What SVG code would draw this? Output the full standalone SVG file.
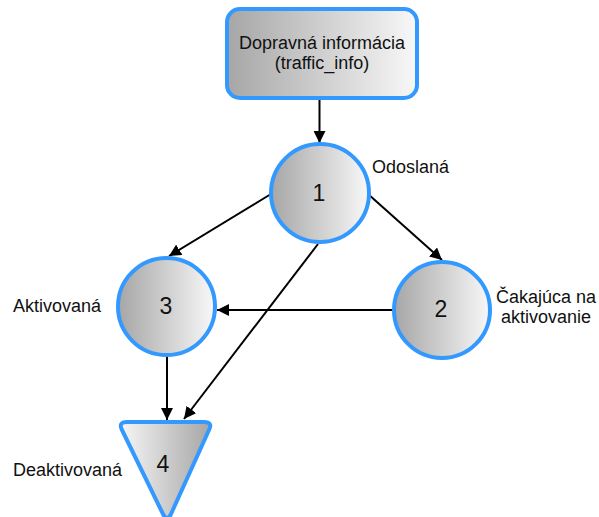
<svg xmlns="http://www.w3.org/2000/svg" width="599" height="517" viewBox="0 0 599 517">
<defs>
<linearGradient id="gL" x1="0" y1="0" x2="1" y2="0"><stop offset="0" stop-color="#a6a6a6"/><stop offset="1" stop-color="#f8f8f8"/></linearGradient>
<linearGradient id="gR" x1="0" y1="0" x2="1" y2="0"><stop offset="0" stop-color="#f6f6f6"/><stop offset="1" stop-color="#a6a6a6"/></linearGradient>
<marker id="ah" viewBox="0 0 12 12" refX="12" refY="6" markerWidth="12" markerHeight="12" markerUnits="userSpaceOnUse" orient="auto"><path d="M0,0 L12,6 L0,12 z" fill="#000"/></marker>
<style>
.node{stroke:#3399ff;stroke-width:4}
.lbl{font-family:"Liberation Sans",Arial,sans-serif;font-size:18px;fill:#111}
.num{font-family:"Liberation Sans",Arial,sans-serif;font-size:23px;fill:#111;text-anchor:middle}
.con line{stroke:#000;stroke-width:2;marker-end:url(#ah)}
</style>
</defs>
<rect width="599" height="517" fill="#fff"/>
<g id="connectors" class="con">
<line x1="319.5" y1="99" x2="319.5" y2="143"/>
<line x1="271" y1="194" x2="169" y2="256"/>
<line x1="368" y1="194" x2="442" y2="260"/>
<line x1="318" y1="244" x2="184" y2="419"/>
<line x1="393" y1="310" x2="217" y2="310"/>
<line x1="167" y1="356" x2="167" y2="420"/>
</g>
<g id="info">
<rect class="node" x="227" y="9" width="190" height="89" rx="13" fill="url(#gL)"/>
<text class="lbl" x="322" y="49" text-anchor="middle">Dopravná informácia</text>
<text class="lbl" x="322" y="69" text-anchor="middle">(traffic_info)</text>
</g>
<g id="n1">
<circle class="node" cx="320" cy="193" r="49" fill="url(#gL)"/>
<text class="num" x="319" y="201">1</text>
<text class="lbl" x="372" y="173">Odoslaná</text>
</g>
<g id="n2">
<circle class="node" cx="442" cy="310" r="48" fill="url(#gL)"/>
<text class="num" x="441" y="317">2</text>
<text class="lbl" x="546" y="303" text-anchor="middle">Čakajúca na</text>
<text class="lbl" x="546" y="323" text-anchor="middle">aktivovanie</text>
</g>
<g id="n3">
<circle class="node" cx="166.5" cy="306.5" r="48.5" fill="url(#gL)"/>
<text class="num" x="166" y="314">3</text>
<text class="lbl" x="13" y="312">Aktivovaná</text>
</g>
<g id="n4">
<path class="node" d="M127,422 L204,422 Q213,422 209,430 L171,514 Q167,522 163,514 L122,430 Q118,422 127,422 Z" fill="url(#gR)" stroke-linejoin="round"/>
<text class="num" x="163" y="472">4</text>
<text class="lbl" x="13" y="476">Deaktivovaná</text>
</g>
</svg>
